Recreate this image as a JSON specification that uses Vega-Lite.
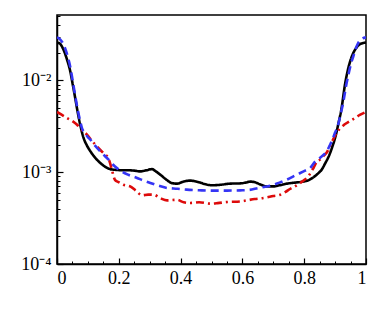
{
  "$schema": "https://vega.github.io/schema/vega-lite/v6.json",
  "width": 309,
  "height": 249,
  "autosize": "none",
  "padding": {"left": 57, "top": 15, "right": 8, "bottom": 48},
  "background": "white",
  "config": {
    "view": {"stroke": "black", "strokeWidth": 1.5},
    "axis": {"grid": false, "title": null, "domainColor": "black", "tickColor": "black"}
  },
  "datasets": {
    "d": [
      {"s":"a","x":0.0,"v":0.0259},{"s":"a","x":0.01,"v":0.025},{"s":"a","x":0.021,"v":0.0216},{"s":"a","x":0.032,"v":0.017},{"s":"a","x":0.043,"v":0.0125},{"s":"a","x":0.051,"v":0.009},{"s":"a","x":0.059,"v":0.0064},{"s":"a","x":0.067,"v":0.0045},{"s":"a","x":0.075,"v":0.0033},{"s":"a","x":0.086,"v":0.00236},{"s":"a","x":0.097,"v":0.00195},{"s":"a","x":0.108,"v":0.00169},{"s":"a","x":0.125,"v":0.00142},{"s":"a","x":0.14,"v":0.00126},{"s":"a","x":0.155,"v":0.00115},{"s":"a","x":0.172,"v":0.00108},{"s":"a","x":0.19,"v":0.00106},{"s":"a","x":0.21,"v":0.00105},{"s":"a","x":0.226,"v":0.00105},{"s":"a","x":0.25,"v":0.00104},{"s":"a","x":0.269,"v":0.00102},{"s":"a","x":0.29,"v":0.00105},{"s":"a","x":0.307,"v":0.00108},{"s":"a","x":0.32,"v":0.00102},{"s":"a","x":0.334,"v":0.00094},{"s":"a","x":0.35,"v":0.00085},{"s":"a","x":0.36,"v":0.0008},{"s":"a","x":0.372,"v":0.00076},{"s":"a","x":0.388,"v":0.00075},{"s":"a","x":0.41,"v":0.00079},{"s":"a","x":0.431,"v":0.00081},{"s":"a","x":0.45,"v":0.00079},{"s":"a","x":0.463,"v":0.00077},{"s":"a","x":0.48,"v":0.00074},{"s":"a","x":0.501,"v":0.00072},{"s":"a","x":0.53,"v":0.00073},{"s":"a","x":0.56,"v":0.00075},{"s":"a","x":0.593,"v":0.000755},{"s":"a","x":0.61,"v":0.00077},{"s":"a","x":0.625,"v":0.00079},{"s":"a","x":0.641,"v":0.000775},{"s":"a","x":0.66,"v":0.00073},{"s":"a","x":0.679,"v":0.0007},{"s":"a","x":0.7,"v":0.0007},{"s":"a","x":0.72,"v":0.00072},{"s":"a","x":0.744,"v":0.00075},{"s":"a","x":0.77,"v":0.00077},{"s":"a","x":0.797,"v":0.00079},{"s":"a","x":0.815,"v":0.00082},{"s":"a","x":0.83,"v":0.00088},{"s":"a","x":0.845,"v":0.00097},{"s":"a","x":0.857,"v":0.00107},{"s":"a","x":0.868,"v":0.00125},{"s":"a","x":0.878,"v":0.00145},{"s":"a","x":0.89,"v":0.00185},{"s":"a","x":0.9,"v":0.00236},{"s":"a","x":0.91,"v":0.0033},{"s":"a","x":0.921,"v":0.005},{"s":"a","x":0.932,"v":0.009},{"s":"a","x":0.943,"v":0.0137},{"s":"a","x":0.951,"v":0.017},{"s":"a","x":0.959,"v":0.0199},{"s":"a","x":0.967,"v":0.0222},{"s":"a","x":0.975,"v":0.024},{"s":"a","x":0.985,"v":0.0252},{"s":"a","x":1.0,"v":0.0258},
      {"s":"c","x":0.0,"v":0.00453},{"s":"c","x":0.016,"v":0.0042},{"s":"c","x":0.032,"v":0.00389},{"s":"c","x":0.05,"v":0.0036},{"s":"c","x":0.065,"v":0.00329},{"s":"c","x":0.08,"v":0.0029},{"s":"c","x":0.097,"v":0.00256},{"s":"c","x":0.113,"v":0.0022},{"s":"c","x":0.129,"v":0.00191},{"s":"c","x":0.145,"v":0.00168},{"s":"c","x":0.156,"v":0.00155},{"s":"c","x":0.165,"v":0.00145},{"s":"c","x":0.172,"v":0.00125},{"s":"c","x":0.178,"v":0.00105},{"s":"c","x":0.188,"v":0.00082},{"s":"c","x":0.199,"v":0.00078},{"s":"c","x":0.215,"v":0.00073},{"s":"c","x":0.237,"v":0.0007},{"s":"c","x":0.255,"v":0.00063},{"s":"c","x":0.275,"v":0.00056},{"s":"c","x":0.295,"v":0.00057},{"s":"c","x":0.313,"v":0.000568},{"s":"c","x":0.335,"v":0.00052},{"s":"c","x":0.356,"v":0.000493},{"s":"c","x":0.388,"v":0.0005},{"s":"c","x":0.41,"v":0.00047},{"s":"c","x":0.431,"v":0.000462},{"s":"c","x":0.46,"v":0.00047},{"s":"c","x":0.496,"v":0.000454},{"s":"c","x":0.52,"v":0.00046},{"s":"c","x":0.55,"v":0.000473},{"s":"c","x":0.593,"v":0.00048},{"s":"c","x":0.614,"v":0.000493},{"s":"c","x":0.64,"v":0.00051},{"s":"c","x":0.668,"v":0.000524},{"s":"c","x":0.7,"v":0.00055},{"s":"c","x":0.722,"v":0.000568},{"s":"c","x":0.74,"v":0.00061},{"s":"c","x":0.754,"v":0.000656},{"s":"c","x":0.77,"v":0.0007},{"s":"c","x":0.787,"v":0.000763},{"s":"c","x":0.8,"v":0.00082},{"s":"c","x":0.813,"v":0.0009},{"s":"c","x":0.822,"v":0.001},{"s":"c","x":0.83,"v":0.00111},{"s":"c","x":0.841,"v":0.0013},{"s":"c","x":0.851,"v":0.00137},{"s":"c","x":0.862,"v":0.0015},{"s":"c","x":0.873,"v":0.00164},{"s":"c","x":0.884,"v":0.00195},{"s":"c","x":0.9,"v":0.0025},{"s":"c","x":0.916,"v":0.003},{"s":"c","x":0.93,"v":0.0033},{"s":"c","x":0.948,"v":0.0036},{"s":"c","x":0.965,"v":0.0039},{"s":"c","x":0.98,"v":0.0042},{"s":"c","x":1.0,"v":0.00453},
      {"s":"b","x":0.0,"v":0.0294},{"s":"b","x":0.01,"v":0.028},{"s":"b","x":0.02,"v":0.025},{"s":"b","x":0.032,"v":0.0195},{"s":"b","x":0.043,"v":0.014},{"s":"b","x":0.051,"v":0.0098},{"s":"b","x":0.059,"v":0.0068},{"s":"b","x":0.067,"v":0.0048},{"s":"b","x":0.075,"v":0.0036},{"s":"b","x":0.081,"v":0.003},{"s":"b","x":0.09,"v":0.0027},{"s":"b","x":0.1,"v":0.0024},{"s":"b","x":0.108,"v":0.00226},{"s":"b","x":0.12,"v":0.002},{"s":"b","x":0.14,"v":0.00169},{"s":"b","x":0.155,"v":0.0015},{"s":"b","x":0.167,"v":0.00137},{"s":"b","x":0.18,"v":0.00122},{"s":"b","x":0.195,"v":0.0011},{"s":"b","x":0.205,"v":0.00104},{"s":"b","x":0.23,"v":0.00094},{"s":"b","x":0.259,"v":0.000865},{"s":"b","x":0.28,"v":0.00081},{"s":"b","x":0.302,"v":0.000763},{"s":"b","x":0.33,"v":0.00071},{"s":"b","x":0.356,"v":0.000673},{"s":"b","x":0.39,"v":0.00066},{"s":"b","x":0.42,"v":0.000645},{"s":"b","x":0.46,"v":0.000635},{"s":"b","x":0.496,"v":0.000629},{"s":"b","x":0.55,"v":0.00063},{"s":"b","x":0.593,"v":0.000634},{"s":"b","x":0.62,"v":0.00064},{"s":"b","x":0.65,"v":0.00067},{"s":"b","x":0.69,"v":0.000713},{"s":"b","x":0.72,"v":0.00077},{"s":"b","x":0.744,"v":0.00083},{"s":"b","x":0.776,"v":0.00094},{"s":"b","x":0.803,"v":0.00104},{"s":"b","x":0.819,"v":0.00111},{"s":"b","x":0.835,"v":0.0013},{"s":"b","x":0.851,"v":0.00143},{"s":"b","x":0.873,"v":0.00169},{"s":"b","x":0.889,"v":0.00217},{"s":"b","x":0.9,"v":0.0027},{"s":"b","x":0.91,"v":0.0033},{"s":"b","x":0.918,"v":0.0043},{"s":"b","x":0.927,"v":0.0059},{"s":"b","x":0.935,"v":0.0085},{"s":"b","x":0.943,"v":0.0115},{"s":"b","x":0.951,"v":0.015},{"s":"b","x":0.959,"v":0.0183},{"s":"b","x":0.967,"v":0.0222},{"s":"b","x":0.975,"v":0.0256},{"s":"b","x":0.985,"v":0.028},{"s":"b","x":1.0,"v":0.0294}
    ]
  },
  "data": {"name": "d"},
  "resolve": {"axis": {"x": "independent", "y": "independent"}},
  "layer": [
    {
      "mark": {"type": "line", "interpolate": "monotone", "strokeWidth": 2.6, "clip": true},
      "encoding": {
        "x": {"field": "x", "type": "quantitative", "scale": {"domain": [0, 1], "nice": false},
          "axis": {"orient": "bottom", "values": [0, 0.2, 0.4, 0.6, 0.8, 1], "format": "~g", "labelFont": "Liberation Serif", "labelFontSize": 18, "labelColor": "black", "tickSize": -6, "tickWidth": 1.2, "labelPadding": 11, "domainWidth": 1.5}},
        "y": {"field": "v", "type": "quantitative", "scale": {"type": "log", "domain": [0.0001, 0.0515], "nice": false},
          "axis": {"orient": "left", "values": [0.0001, 0.001, 0.01], "labelExpr": "datum.value < 0.0005 ? '10⁻⁴' : datum.value < 0.005 ? '10⁻³' : '10⁻²'", "labelFont": "Liberation Serif", "labelFontSize": 18, "labelColor": "black", "tickSize": -6, "tickWidth": 1.2, "labelPadding": 12, "domainWidth": 1.5}},
        "color": {"field": "s", "type": "nominal", "scale": {"domain": ["a", "b", "c"], "range": ["#000000", "#3535f5", "#dd0a0a"]}, "legend": null},
        "strokeDash": {"field": "s", "type": "nominal", "scale": {"domain": ["a", "b", "c"], "range": [[1, 0], [8, 5], [8, 4, 2, 4]]}, "legend": null}
      }
    },
    {
      "mark": {"type": "point", "opacity": 0},
      "encoding": {
        "x": {"field": "x", "type": "quantitative",
          "axis": {"orient": "bottom", "values": [0.05, 0.1, 0.15, 0.25, 0.3, 0.35, 0.45, 0.5, 0.55, 0.65, 0.7, 0.75, 0.85, 0.9, 0.95], "labels": false, "domain": false, "tickSize": -3, "tickWidth": 1}},
        "y": {"field": "v", "type": "quantitative",
          "axis": {"orient": "left", "values": [0.0002, 0.0003, 0.0004, 0.0005, 0.0006, 0.0007, 0.0008, 0.0009, 0.002, 0.003, 0.004, 0.005, 0.006, 0.007, 0.008, 0.009, 0.02, 0.03, 0.04, 0.05], "labels": false, "domain": false, "tickSize": -3, "tickWidth": 1}}
      }
    }
  ]
}
